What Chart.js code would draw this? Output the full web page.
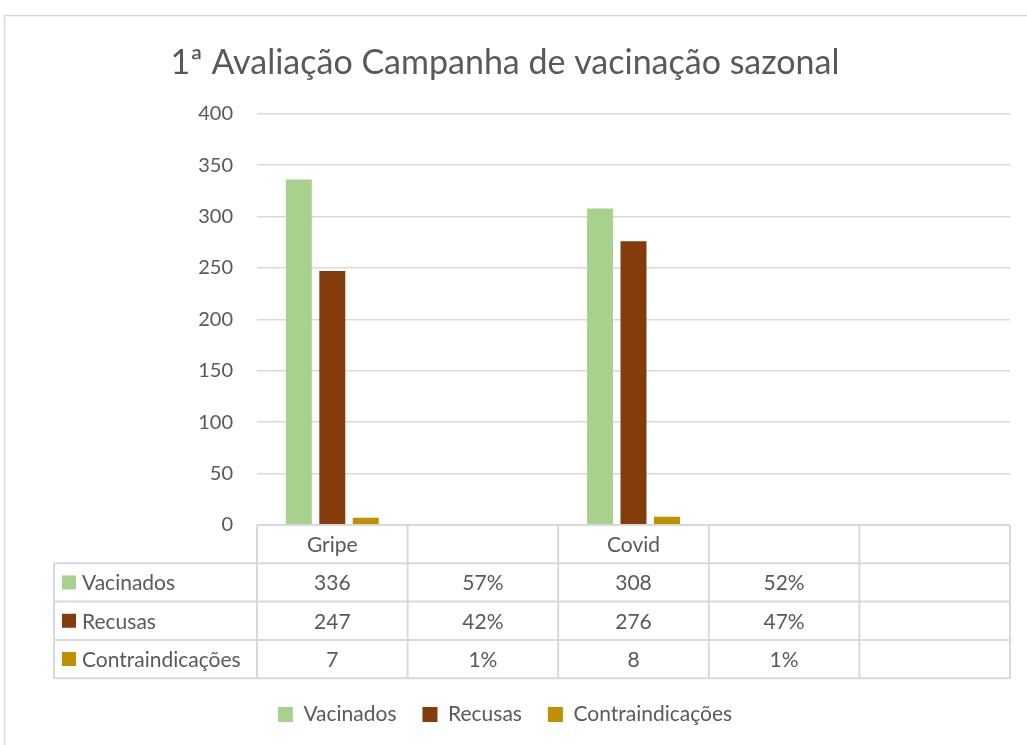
<!DOCTYPE html>
<html>
<head>
<meta charset="utf-8">
<script src="https://cdn.jsdelivr.net/npm/chart.js@4"></script>
<style>
  html, body { margin: 0; padding: 0; background: #fff; }
  #wrap { width: 1027px; height: 745px; position: relative; }
</style>
</head>
<body>
<div id="wrap"><canvas id="vacChart" width="1027" height="745"></canvas></div>
<script>
// data
const categories = ['Gripe', '', 'Covid', '', ''];
const vacinados = [336, null, 308, null, null];
const recusas = [247, null, 276, null, null];
const contraindicacoes = [7, null, 8, null, null];
// percentage cells shown in the data table
const vacinadosPct = ['', '57%', '', '52%', ''];
const recusasPct = ['', '42%', '', '47%', ''];
const contraPct = ['', '1%', '', '1%', ''];
const yTicks = [0, 50, 100, 150, 200, 250, 300, 350, 400];

const textColor = '#595959';
const lineColor = '#d9d9d9';
const fontFam = "Lato, 'Open Sans', sans-serif";

const series = [
  { label: 'Vacinados', data: vacinados, pct: vacinadosPct, color: '#a9d18e' },
  { label: 'Recusas', data: recusas, pct: recusasPct, color: '#843c0c' },
  { label: 'Contraindicações', data: contraindicacoes, pct: contraPct, color: '#bf9000' }
];

// draws the outer frame and the excel style data table under the bars
const tablePlugin = {
  id: 'dataTable',
  beforeDraw(chart) {
    const c = chart.ctx;
    c.save();
    c.strokeStyle = lineColor;
    c.lineWidth = 1.5;
    c.strokeRect(4.5, 15.5, 1100, 800);
    c.restore();
  },
  afterDraw(chart) {
    const c = chart.ctx;
    const xs = chart.scales.x;
    const area = chart.chartArea;
    const top = area.bottom;
    const rowH = 38.3;
    const left = 54;
    const n = categories.length;
    const colW = (area.right - area.left) / n;

    c.save();
    c.strokeStyle = lineColor;
    c.lineWidth = 2;
    c.beginPath();
    // horizontal lines
    c.moveTo(area.left, top); c.lineTo(area.right, top);
    for (let r = 1; r <= 4; r++) {
      const y = top + r * rowH;
      c.moveTo(left, y); c.lineTo(area.right, y);
    }
    // vertical lines
    for (let i = 0; i <= n; i++) {
      const x = area.left + i * colW;
      c.moveTo(x, top); c.lineTo(x, top + 4 * rowH);
    }
    c.moveTo(left, top + rowH); c.lineTo(left, top + 4 * rowH);
    c.stroke();

    c.fillStyle = textColor;
    c.font = '21px ' + fontFam;
    c.textAlign = 'center';
    c.textBaseline = 'middle';
    categories.forEach((cat, i) => {
      c.fillText(cat, xs.getPixelForValue(i), top + rowH / 2 + 1);
    });
    series.forEach((s, r) => {
      const yMid = top + (r + 1.5) * rowH + 1;
      c.fillStyle = s.color;
      c.fillRect(62, yMid - 8, 14, 14);
      c.fillStyle = textColor;
      c.textAlign = 'left';
      c.fillText(s.label, 82, yMid);
      c.textAlign = 'center';
      for (let i = 0; i < n; i++) {
        const v = s.data[i] != null ? String(s.data[i]) : s.pct[i];
        c.fillText(v, xs.getPixelForValue(i), yMid);
      }
    });
    c.restore();
  }
};

const ctx = document.getElementById('vacChart').getContext('2d');
new Chart(ctx, {
  type: 'bar',
  data: {
    labels: categories,
    datasets: series.map(s => ({
      label: s.label,
      data: s.data,
      backgroundColor: s.color,
      categoryPercentage: 0.667,
      barPercentage: 0.776
    }))
  },
  options: {
    responsive: false,
    animation: false,
    layout: { padding: { left: 0, right: 17, top: 0, bottom: 10 } },
    plugins: {
      title: {
        display: true,
        text: '1ª Avaliação Campanha de vacinação sazonal',
        color: textColor,
        font: { family: fontFam, size: 34, weight: 'normal' },
        padding: { top: 43, bottom: 30 }
      },
      legend: {
        position: 'bottom',
        labels: {
          color: textColor,
          font: { family: fontFam, size: 21 },
          boxWidth: 15,
          boxHeight: 15,
          padding: 26
        }
      },
      tooltip: { enabled: false }
    },
    scales: {
      x: {
        grid: { display: false },
        border: { display: false },
        ticks: { display: false },
        afterFit(scale) { scale.height = 153; }
      },
      y: {
        min: 0,
        max: 400,
        afterBuildTicks(scale) { scale.ticks = yTicks.map(v => ({ value: v })); },
        grid: { color: lineColor, lineWidth: 1.5, drawTicks: false },
        border: { display: false },
        ticks: {
          color: textColor,
          font: { family: fontFam, size: 20 },
          padding: 24
        },
        afterFit(scale) { scale.width = 257; }
      }
    }
  },
  plugins: [tablePlugin]
});
</script>
</body>
</html>
